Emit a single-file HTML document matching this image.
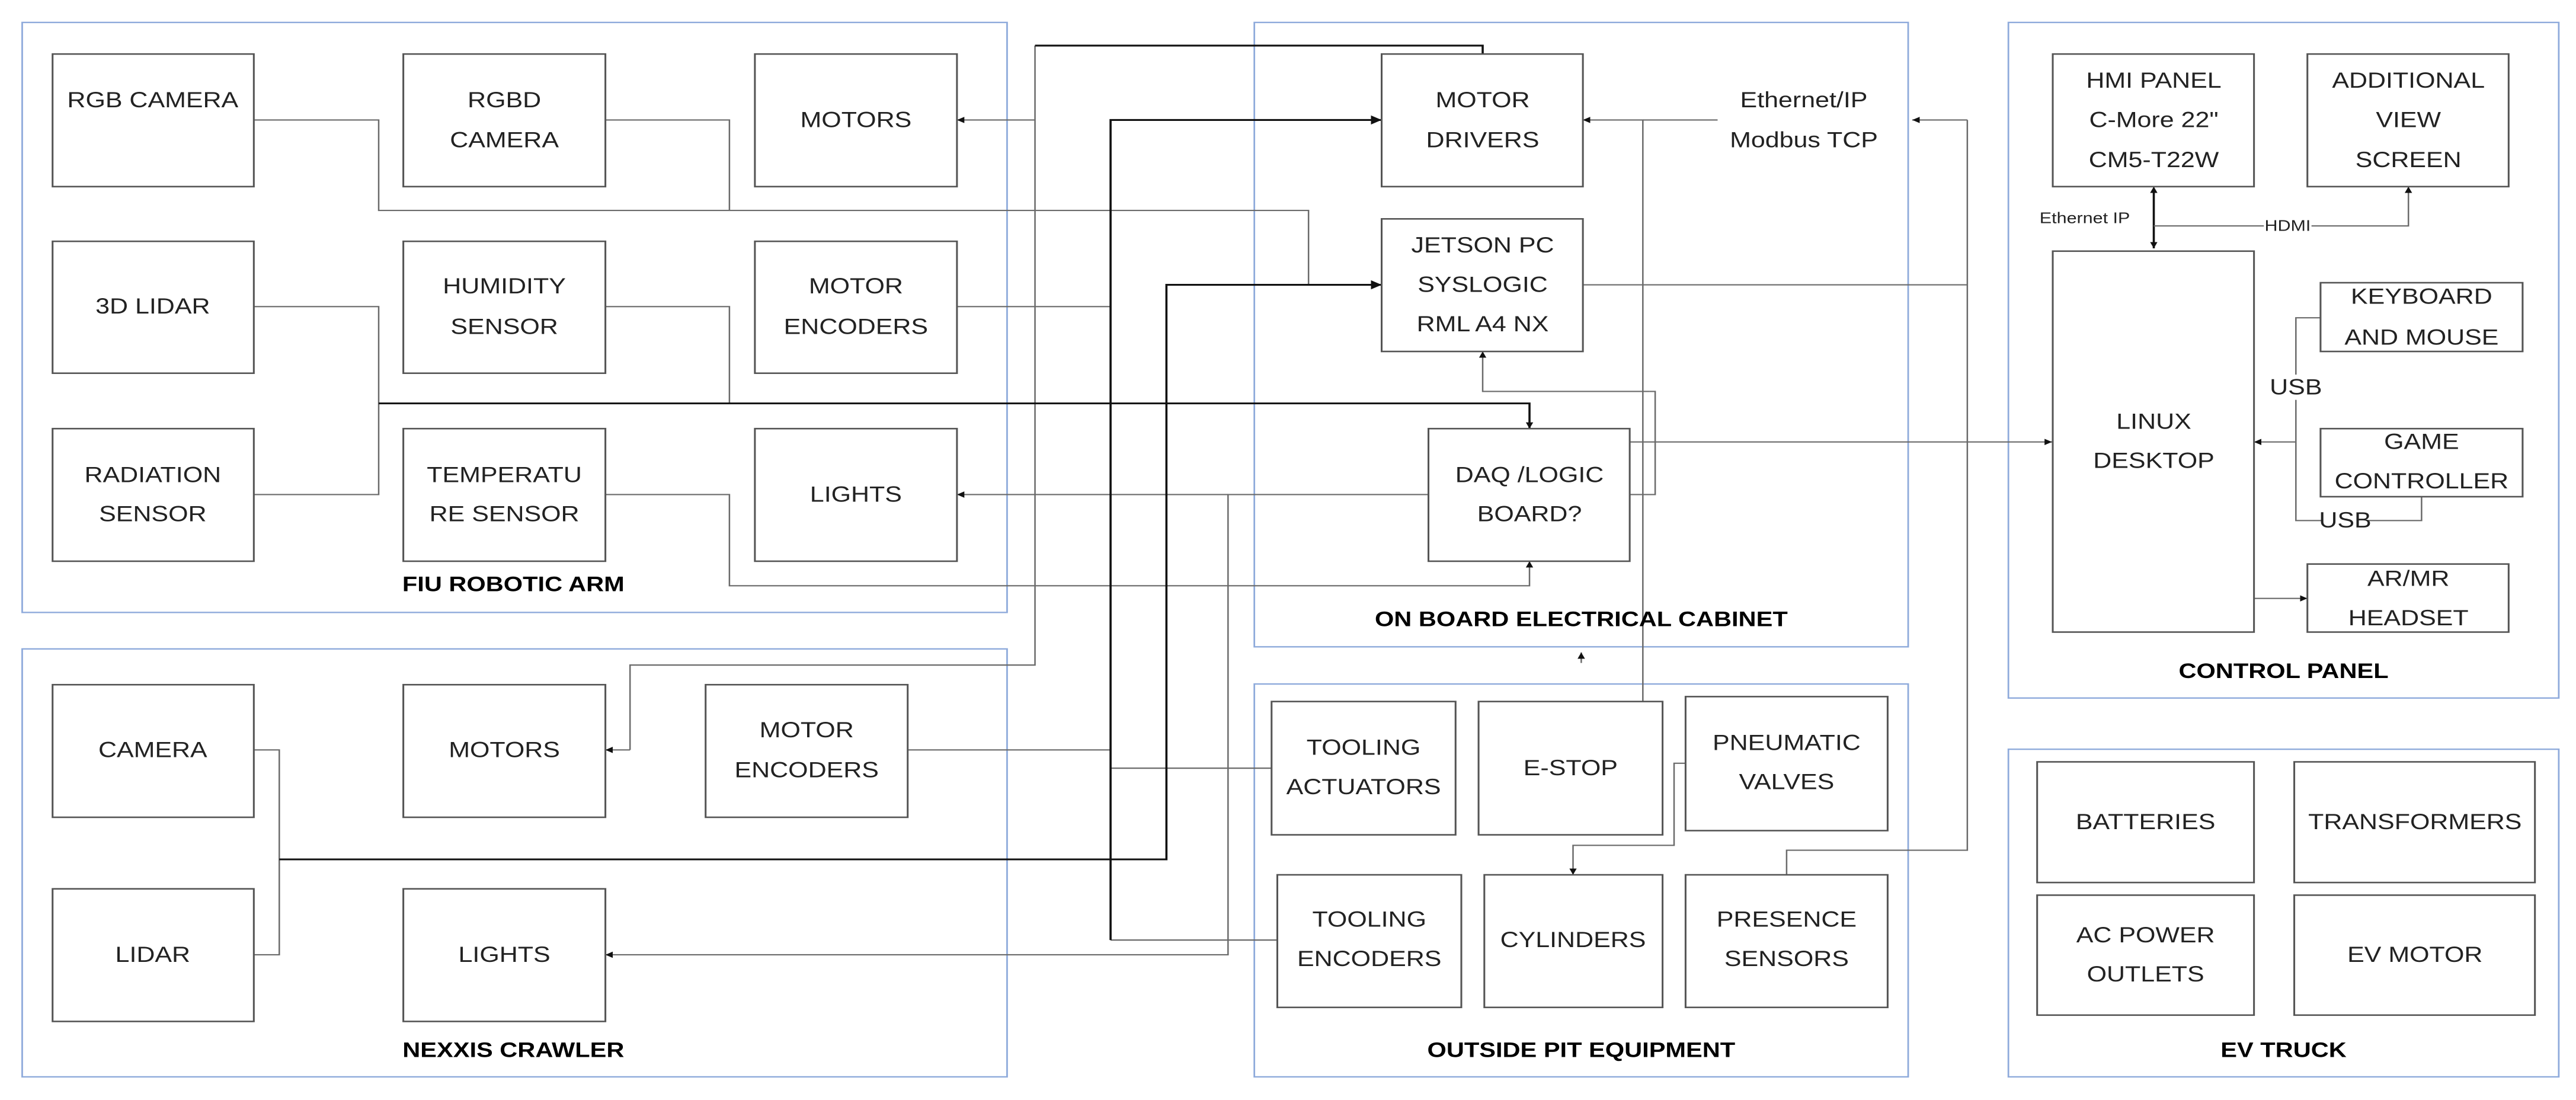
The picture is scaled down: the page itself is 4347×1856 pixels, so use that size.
<!DOCTYPE html>
<html><head><meta charset="utf-8"><style>
html,body{margin:0;padding:0;background:#fff;}
svg{display:block;}
text{font-family:"Liberation Sans",sans-serif;font-size:31px;fill:#222;text-anchor:middle;dominant-baseline:central;}
.b{font-weight:bold;font-size:30px;fill:#000;}
.s{font-size:22px;}
.c{fill:none;stroke:#8eaadb;stroke-width:2;}
.x{fill:#fff;stroke:#555;stroke-width:2.2;}
.l{fill:none;stroke:#6a6a6a;stroke-width:1.8;}
.k{fill:none;stroke:#111;stroke-width:2.6;}
</style></head><body>
<svg width="4347" height="1856" viewBox="0 0 3136 1568" preserveAspectRatio="none" xmlns="http://www.w3.org/2000/svg">
<defs>
<marker id="a" viewBox="0 0 10 10" refX="10" refY="5" markerWidth="9" markerHeight="9" markerUnits="userSpaceOnUse" orient="auto"><path d="M0,0L10,5L0,10z" fill="#111"/></marker>
<marker id="a2" viewBox="0 0 10 10" refX="10" refY="5" markerWidth="13" markerHeight="13" markerUnits="userSpaceOnUse" orient="auto"><path d="M0,0L10,5L0,10z" fill="#111"/></marker>
</defs>
<rect class="c" x="27" y="32" width="1199" height="841"/>
<rect class="c" x="27" y="925" width="1199" height="610"/>
<rect class="c" x="1527" y="32" width="796" height="890"/>
<rect class="c" x="1527" y="975" width="796" height="560"/>
<rect class="c" x="2445" y="32" width="670" height="963"/>
<rect class="c" x="2445" y="1068" width="670" height="467"/>

<path class="l" d="M309,171H461V300H1593V406"/>
<path class="l" d="M737,171H888V300"/>
<path class="l" d="M309,437H461V705H309"/>
<path class="l" d="M737,437H888V575"/>
<path class="l" d="M1165,437H1352"/>
<path class="l" d="M1260,65V948H767V1069" />
<path class="l" d="M767,1069H737" marker-end="url(#a)"/>
<path class="l" d="M1260,171H1165" marker-end="url(#a)"/>
<path class="l" d="M1105,1069H1352"/>
<path class="l" d="M1352,1095H1548"/>
<path class="l" d="M1352,1340H1555"/>
<path class="l" d="M1739,705H1495V1361H737" marker-end="url(#a)"/>
<path class="l" d="M1495,705H1165" marker-end="url(#a)"/>
<path class="l" d="M737,705H888V835H1862V800" marker-end="url(#a)"/>
<path class="l" d="M309,1069H340V1361H309"/>
<path class="l" d="M2000,1000V171H1927" marker-end="url(#a)"/>
<path class="l" d="M2091,171H2000"/>
<path class="l" d="M2395,171H2328" marker-end="url(#a)"/>
<path class="l" d="M2395,171V1212H2175V1247"/>
<path class="l" d="M1927,406H2395"/>
<path class="l" d="M2008,558H1805V501" marker-end="url(#a)"/>
<path class="l" d="M2008,558H2015V705H1984"/>
<path class="l" d="M1984,630H2498" marker-end="url(#a)"/>
<path class="l" d="M2052,1088H2038V1205H1915V1247" marker-end="url(#a)"/>
<path class="l" d="M1925,945V930" marker-end="url(#a)"/>
<path class="l" d="M2622,280V266" marker-end="url(#a)"/>
<path class="k" d="M2622,270V354" marker-end="url(#a)"/>
<path class="l" d="M2622,322H2932V266" marker-end="url(#a)"/>
<path class="l" d="M2825,453H2795V742H2948V708"/>
<path class="l" d="M2795,630H2744" marker-end="url(#a)"/>
<path class="l" d="M2744,853H2809" marker-end="url(#a)"/>
<path class="k" d="M1260,65H1805V77"/>
<path class="k" d="M1352,1340V171H1682" marker-end="url(#a2)"/>
<path class="k" d="M340,1225H1420V406H1682" marker-end="url(#a2)"/>
<path class="k" d="M461,575H1862V611" marker-end="url(#a)"/>

<rect class="x" x="64" y="77" width="245" height="189"/><text x="186" y="143">RGB CAMERA</text>
<rect class="x" x="491" y="77" width="246" height="189"/><text x="614" y="143">RGBD</text><text x="614" y="200">CAMERA</text>
<rect class="x" x="919" y="77" width="246" height="189"/><text x="1042" y="171">MOTORS</text>
<rect class="x" x="64" y="344" width="245" height="188"/><text x="186" y="437">3D LIDAR</text>
<rect class="x" x="491" y="344" width="246" height="188"/><text x="614" y="408">HUMIDITY</text><text x="614" y="466">SENSOR</text>
<rect class="x" x="919" y="344" width="246" height="188"/><text x="1042" y="408">MOTOR</text><text x="1042" y="466">ENCODERS</text>
<rect class="x" x="64" y="611" width="245" height="189"/><text x="186" y="677">RADIATION</text><text x="186" y="733">SENSOR</text>
<rect class="x" x="491" y="611" width="246" height="189"/><text x="614" y="677">TEMPERATU</text><text x="614" y="733">RE SENSOR</text>
<rect class="x" x="919" y="611" width="246" height="189"/><text x="1042" y="705">LIGHTS</text>
<text class="b" x="625" y="833">FIU ROBOTIC ARM</text>
<rect class="x" x="64" y="976" width="245" height="189"/><text x="186" y="1069">CAMERA</text>
<rect class="x" x="491" y="976" width="246" height="189"/><text x="614" y="1069">MOTORS</text>
<rect class="x" x="859" y="976" width="246" height="189"/><text x="982" y="1041">MOTOR</text><text x="982" y="1098">ENCODERS</text>
<rect class="x" x="64" y="1267" width="245" height="189"/><text x="186" y="1361">LIDAR</text>
<rect class="x" x="491" y="1267" width="246" height="189"/><text x="614" y="1361">LIGHTS</text>
<text class="b" x="625" y="1497">NEXXIS CRAWLER</text>
<rect class="x" x="1682" y="77" width="245" height="189"/><text x="1805" y="143">MOTOR</text><text x="1805" y="200">DRIVERS</text>
<rect class="x" x="1682" y="312" width="245" height="189"/><text x="1805" y="350">JETSON PC</text><text x="1805" y="406">SYSLOGIC</text><text x="1805" y="462">RML A4 NX</text>
<rect class="x" x="1739" y="611" width="245" height="189"/><text x="1862" y="677">DAQ /LOGIC</text><text x="1862" y="733">BOARD?</text>
<rect x="2110" y="118" width="175" height="104" fill="#fff"/>
<text x="2196" y="143">Ethernet/IP</text><text x="2196" y="200">Modbus TCP</text>
<text class="b" x="1925" y="883">ON BOARD ELECTRICAL CABINET</text>
<rect class="x" x="1548" y="1000" width="224" height="190"/><text x="1660" y="1066">TOOLING</text><text x="1660" y="1122">ACTUATORS</text>
<rect class="x" x="1800" y="1000" width="224" height="190"/><text x="1912" y="1095">E-STOP</text>
<rect class="x" x="2052" y="993" width="246" height="191"/><text x="2175" y="1059">PNEUMATIC</text><text x="2175" y="1115">VALVES</text>
<rect class="x" x="1555" y="1247" width="224" height="189"/><text x="1667" y="1311">TOOLING</text><text x="1667" y="1367">ENCODERS</text>
<rect class="x" x="1807" y="1247" width="217" height="189"/><text x="1915" y="1340">CYLINDERS</text>
<rect class="x" x="2052" y="1247" width="246" height="189"/><text x="2175" y="1311">PRESENCE</text><text x="2175" y="1367">SENSORS</text>
<text class="b" x="1925" y="1497">OUTSIDE PIT EQUIPMENT</text>
<rect class="x" x="2499" y="77" width="245" height="189"/><text x="2622" y="115">HMI PANEL</text><text x="2622" y="171">C-More 22"</text><text x="2622" y="228">CM5-T22W</text>
<rect class="x" x="2809" y="77" width="245" height="189"/><text x="2932" y="115">ADDITIONAL</text><text x="2932" y="171">VIEW</text><text x="2932" y="228">SCREEN</text>
<rect class="x" x="2499" y="358" width="245" height="543"/><text x="2622" y="601">LINUX</text><text x="2622" y="657">DESKTOP</text>
<rect class="x" x="2825" y="403" width="246" height="98"/><text x="2948" y="423">KEYBOARD</text><text x="2948" y="481">AND MOUSE</text>
<rect class="x" x="2825" y="611" width="246" height="97"/><text x="2948" y="630">GAME</text><text x="2948" y="686">CONTROLLER</text>
<rect class="x" x="2809" y="804" width="245" height="97"/><text x="2932" y="825">AR/MR</text><text x="2932" y="881">HEADSET</text>
<text class="s" x="2538" y="311">Ethernet IP</text>
<rect x="2756" y="311" width="58" height="22" fill="#fff"/><text class="s" x="2785" y="322">HDMI</text>
<rect x="2770" y="534" width="52" height="36" fill="#fff"/><text x="2795" y="552">USB</text>
<rect x="2828" y="724" width="54" height="36" fill="#fff"/><text x="2855" y="742">USB</text>
<text class="b" x="2780" y="957">CONTROL PANEL</text>
<rect class="x" x="2480" y="1086" width="264" height="172"/><text x="2612" y="1172">BATTERIES</text>
<rect class="x" x="2793" y="1086" width="293" height="172"/><text x="2940" y="1172">TRANSFORMERS</text>
<rect class="x" x="2480" y="1276" width="264" height="171"/><text x="2612" y="1333">AC POWER</text><text x="2612" y="1389">OUTLETS</text>
<rect class="x" x="2793" y="1276" width="293" height="171"/><text x="2940" y="1361">EV MOTOR</text>
<text class="b" x="2780" y="1497">EV TRUCK</text>
</svg>
</body></html>
